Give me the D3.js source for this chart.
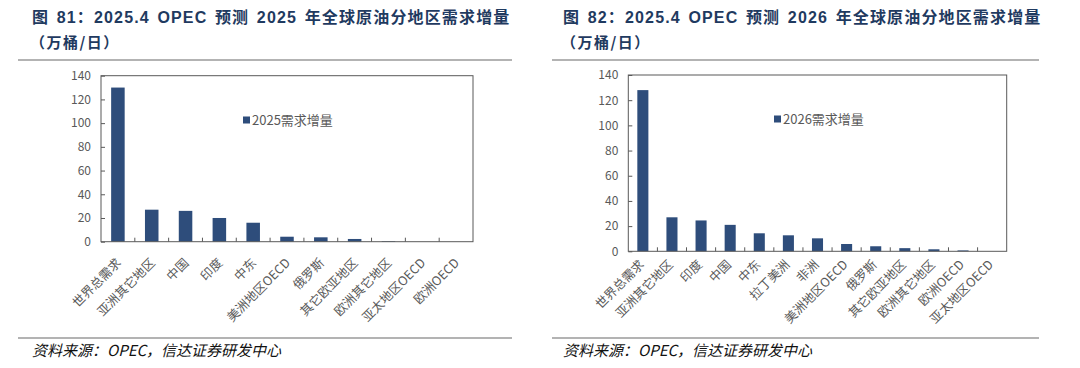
<!DOCTYPE html>
<html><head><meta charset="utf-8">
<script src="https://cdn.jsdelivr.net/npm/d3@7"></script>
<style>
html,body{margin:0;padding:0;background:#fff;}
svg{display:block;}
</style></head>
<body>
<svg id="chart" width="1080" height="368"></svg>
<script>
// ---- data ----
const cats2025 = ["世界总需求","亚洲其它地区","中国","印度","中东","美洲地区OECD","俄罗斯","其它欧亚地区","欧洲其它地区","亚太地区OECD","欧洲OECD"];
const vals2025 = [130, 27, 26, 20, 16, 4.2, 3.7, 2.3, 0.5, 0, 0];
const cats2026 = ["世界总需求","亚洲其它地区","印度","中国","中东","拉丁美洲","非洲","美洲地区OECD","俄罗斯","其它欧亚地区","欧洲其它地区","欧洲OECD","亚太地区OECD"];
const vals2026 = [128, 27, 24.5, 21, 14.3, 12.7, 10.3, 5.8, 4, 2.5, 1.6, 0.7, 0];
const yTicks = [0, 20, 40, 60, 80, 100, 120, 140];
const title2025 = "图 81：2025.4 OPEC 预测 2025 年全球原油分地区需求增量";
const title2026 = "图 82：2025.4 OPEC 预测 2026 年全球原油分地区需求增量";
const subTitle = "（万桶/日）";
const legend2025 = "2025需求增量";
const legend2026 = "2026需求增量";
const source = "资料来源：OPEC，信达证券研发中心";

const svg = d3.select("#chart");
const BAR = "#2E4D7B";
const GREY = "#595959";

function panel(o) {
  const g = svg.append("g");
  // title
  g.append("text").attr("x", o.tx).attr("y", 23)
    .attr("font-family", "'Liberation Sans','Noto Sans CJK SC',sans-serif")
    .attr("font-weight", "bold").attr("font-size", 16).attr("fill", "#1F3A60")
    .attr("letter-spacing", 1.15).attr("word-spacing", 2)
    .text(o.title);
  g.append("text").attr("x", o.tx - 2).attr("y", 48)
    .attr("font-family", "'Noto Sans CJK SC',sans-serif")
    .attr("font-weight", "bold").attr("font-size", 15).attr("fill", "#1F3A60")
    .attr("letter-spacing", 1.5)
    .text(subTitle);
  // rules
  g.append("line").attr("x1", o.rx1).attr("x2", o.rx2).attr("y1", 60).attr("y2", 60)
    .attr("stroke", "#9a9a9a").attr("stroke-width", 1.5);
  g.append("line").attr("x1", o.rx1).attr("x2", o.rx2).attr("y1", 338).attr("y2", 338)
    .attr("stroke", "#9a9a9a").attr("stroke-width", 1.5);
  g.append("text").attr("x", o.tx).attr("y", 356)
    .attr("font-family", "'Noto Sans CJK SC',sans-serif")
    .attr("font-style", "italic").attr("font-size", 15).attr("fill", "#111")
    .text(source);

  const x = d3.scaleBand().domain(o.cats).range([o.x0, o.x1]).paddingInner(o.pad).paddingOuter(o.pad / 2);
  const y = d3.scaleLinear().domain([0, 140]).range([o.y0, o.y1]);
  const band = (o.x1 - o.x0) / o.cats.length;

  // bars
  g.selectAll("rect.bar").data(o.vals).enter().append("rect")
    .attr("x", (d, i) => x(o.cats[i]))
    .attr("width", x.bandwidth())
    .attr("y", d => y(d))
    .attr("height", d => y(0) - y(d))
    .attr("fill", BAR);

  // frame
  g.append("rect").attr("x", o.x0).attr("y", o.y1).attr("width", o.x1 - o.x0).attr("height", o.y0 - o.y1)
    .attr("fill", "none").attr("stroke", GREY).attr("stroke-width", 1);

  // y axis
  const ya = g.append("g").attr("transform", `translate(${o.x0},0)`)
    .call(d3.axisLeft(y).tickValues(yTicks).tickSize(-4).tickPadding(10));
  ya.select(".domain").remove();
  ya.selectAll("line").attr("stroke", GREY);
  ya.selectAll("text").attr("font-family", "'Noto Sans CJK SC',sans-serif").attr("font-size", 12).attr("fill", GREY);

  // x ticks (boundaries between categories)
  const bounds = d3.range(1, o.cats.length).map(i => o.x0 + band * i);
  g.selectAll("line.xt").data(bounds).enter().append("line")
    .attr("x1", d => d).attr("x2", d => d).attr("y1", o.y0).attr("y2", o.y0 - 4)
    .attr("stroke", GREY);

  // x labels
  g.selectAll("text.xl").data(o.cats).enter().append("text")
    .attr("transform", d => `translate(${x(d) + x.bandwidth() / 2 + o.lx},${o.y0 + o.ly}) rotate(-45)`)
    .attr("text-anchor", "end")
    .attr("font-family", "'Noto Sans CJK SC',sans-serif").attr("font-size", 12.5).attr("fill", GREY)
    .text(d => d);

  // legend
  g.append("rect").attr("x", o.lgx).attr("y", o.lgy - 3.5).attr("width", 7).attr("height", 7).attr("fill", BAR);
  g.append("text").attr("x", o.lgx + 9).attr("y", o.lgy).attr("dy", "0.35em")
    .attr("font-family", "'Noto Sans CJK SC',sans-serif").attr("font-size", 13).attr("fill", GREY)
    .text(o.legend);
}

panel({title: title2025, legend: legend2025, cats: cats2025, vals: vals2025,
  tx: 32, rx1: 18, rx2: 512, x0: 101, x1: 473, y0: 241.7, y1: 75.7, pad: 0.6,
  lx: 4, ly: 22, lgx: 243, lgy: 120});
panel({title: title2026, legend: legend2026, cats: cats2026, vals: vals2026,
  tx: 563, rx1: 552, rx2: 1039, x0: 628.3, x1: 1006.7, y0: 251.3, y1: 75, pad: 0.62,
  lx: 2, ly: 14, lgx: 774, lgy: 119});
</script>
</body></html>
